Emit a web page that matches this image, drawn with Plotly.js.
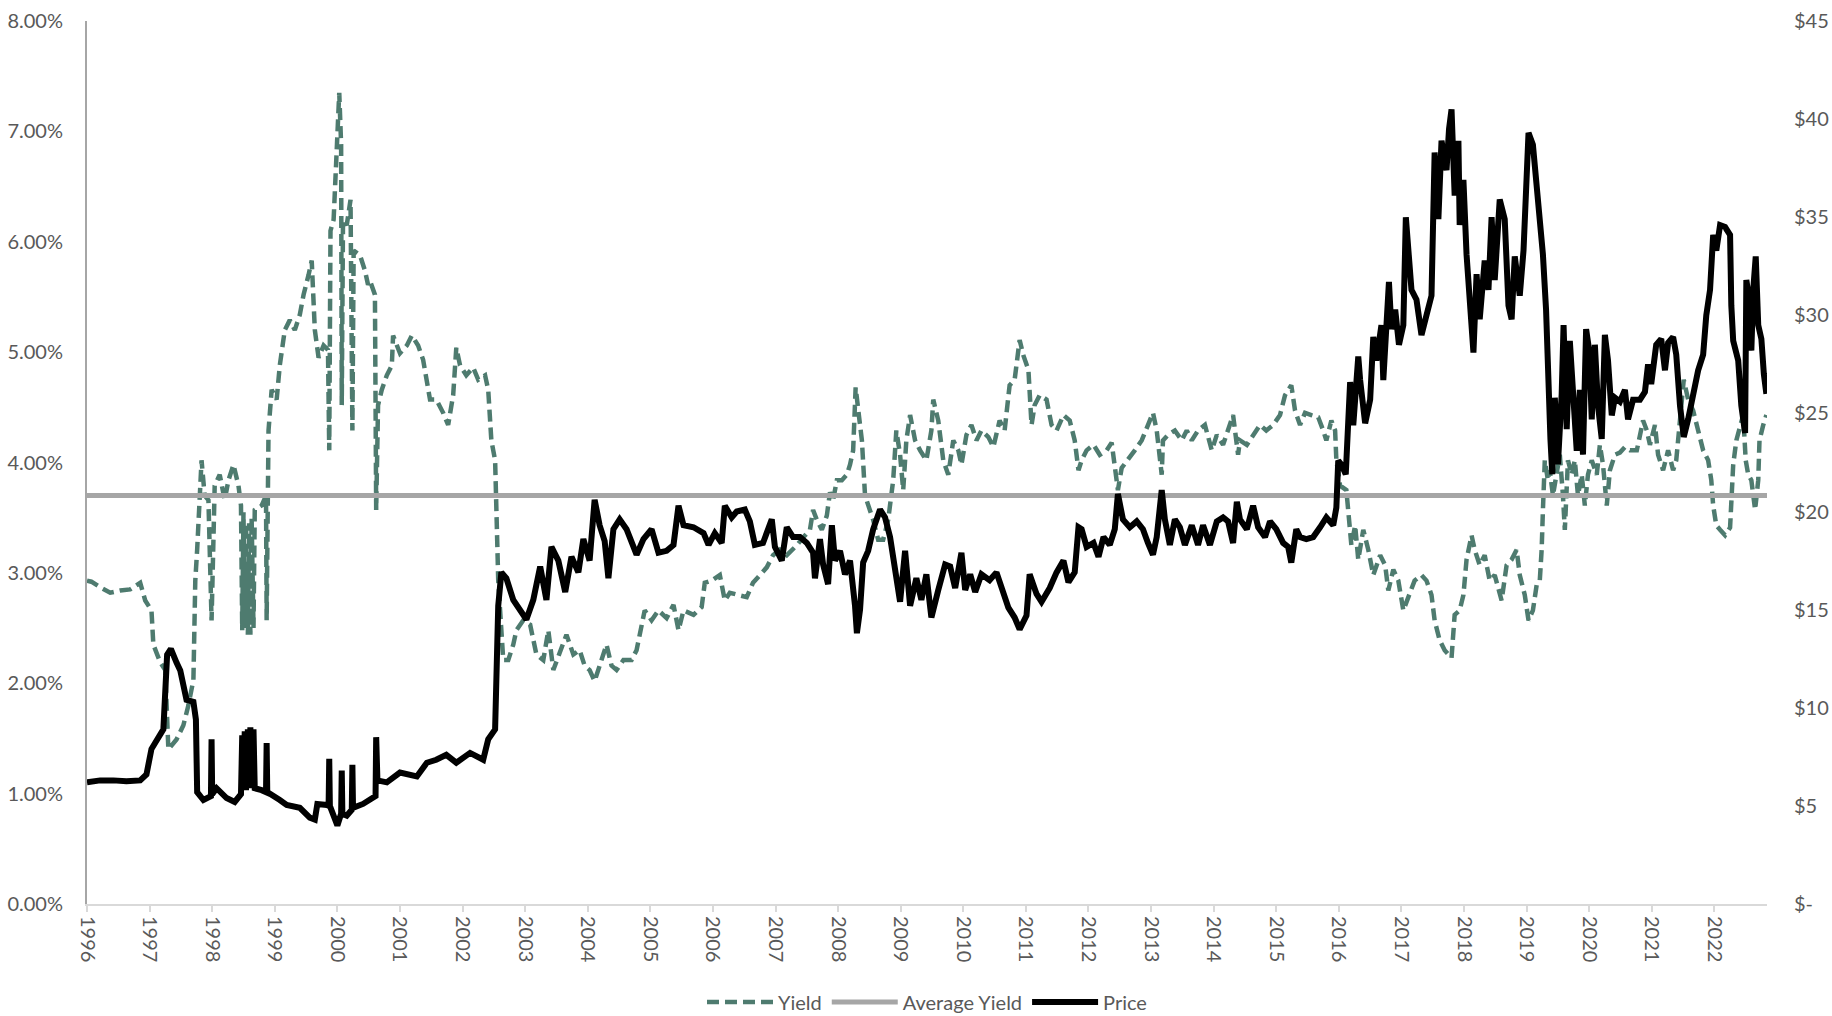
<!DOCTYPE html>
<html>
<head>
<meta charset="utf-8">
<script src="https://cdn.plot.ly/plotly-3.0.1.min.js"></script>
<style>
  html, body { margin: 0; padding: 0; background: #ffffff; }
  #chart { width: 1832px; height: 1016px; }
</style>
</head>
<body>
<div id="chart"></div>
<script>
// ---- Data (x values are decimal years) ----
const priceYears = [
  1996.00,1996.21,1996.42,1996.63,1996.85,1996.95,1997.03,1997.17,1997.22,1997.28,1997.34,1997.43,1997.49,1997.59,1997.70,1997.74,1997.76,1997.86,1997.98,1997.99,1998.00,1998.07,1998.23,1998.36,1998.46,1998.48,1998.50,1998.52,1998.54,1998.57,1998.59,1998.61,1998.63,1998.66,1998.68,1998.79,1998.86,1998.87,1998.88,1999.08,1999.19,1999.40,1999.56,1999.64,1999.68,1999.83,1999.86,1999.87,1999.88,2000.00,2000.06,2000.07,2000.08,2000.15,2000.23,2000.24,2000.25,2000.41,2000.52,
  2000.61,2000.62,2000.64,2000.79,2001.00,2001.27,2001.43,2001.58,2001.74,2001.90,2002.12,2002.33,2002.41,2002.52,2002.54,2002.57,2002.62,2002.70,2002.81,2002.92,2003.02,2003.13,2003.24,2003.34,2003.42,2003.53,2003.64,2003.74,2003.85,2003.93,2004.03,2004.11,2004.19,2004.27,2004.33,2004.41,2004.51,2004.62,2004.70,2004.78,2004.89,2005.02,2005.13,
  2005.26,2005.37,2005.45,2005.53,2005.69,2005.85,2005.93,2006.03,2006.14,2006.19,2006.30,2006.38,2006.51,2006.59,2006.67,2006.80,2006.94,2006.99,2007.10,2007.18,2007.28,2007.39,2007.50,2007.60,2007.63,2007.71,2007.76,2007.84,2007.90,2007.95,2008.03,2008.11,2008.19,2008.27,2008.30,2008.35,2008.40,2008.48,2008.56,2008.67,2008.75,2008.83,2008.91,2008.99,2009.07,2009.15,2009.25,2009.33,2009.41,2009.49,2009.60,2009.71,
  2009.79,2009.87,2009.97,2010.03,2010.11,2010.19,2010.29,2010.42,2010.53,2010.61,2010.72,2010.82,2010.90,2011.01,2011.06,2011.17,2011.25,2011.38,2011.49,2011.60,2011.68,2011.78,2011.84,2011.89,2011.97,2012.08,2012.16,2012.24,2012.34,2012.42,2012.47,2012.55,2012.66,2012.77,2012.87,2012.95,2013.03,2013.09,2013.17,2013.22,2013.30,2013.38,2013.46,2013.54,2013.65,2013.75,2013.83,2013.94,2014.05,2014.15,2014.23,2014.31,2014.37,2014.42,
  2014.53,2014.63,2014.71,2014.82,2014.90,2015.00,2015.11,2015.19,2015.24,2015.32,2015.38,2015.48,2015.59,2015.70,2015.80,2015.91,2015.96,2015.99,2016.04,2016.11,2016.18,2016.23,2016.31,2016.34,2016.42,2016.50,2016.55,2016.60,2016.68,2016.71,2016.76,2016.80,2016.84,2016.90,2016.96,2017.03,2017.07,2017.11,2017.16,2017.24,2017.32,2017.40,2017.48,2017.53,2017.59,2017.64,2017.72,2017.76,2017.80,2017.85,2017.91,2017.93,2017.99,2018.04,2018.09,2018.15,2018.20,2018.25,2018.33,2018.39,2018.44,2018.49,2018.57,2018.65,2018.71,2018.76,2018.81,2018.89,2018.95,2018.99,2019.03,
  2019.10,2019.16,2019.21,2019.26,2019.31,2019.34,2019.38,2019.41,2019.45,2019.50,2019.56,2019.59,2019.64,2019.69,2019.74,2019.80,2019.85,2019.90,2019.95,2020.00,2020.04,2020.09,2020.14,2020.20,2020.25,2020.30,2020.36,2020.41,2020.49,2020.57,2020.62,2020.70,2020.81,2020.89,2020.94,2020.99,2021.07,2021.15,2021.21,2021.26,2021.34,2021.39,2021.45,2021.51,2021.58,2021.66,2021.74,2021.82,2021.87,2021.93,2021.98,2022.03,2022.09,2022.17,2022.25,2022.27,2022.30,2022.38,2022.43,2022.49,2022.51,2022.57,2022.59,2022.62,2022.66,2022.70,2022.75,2022.79,2022.83
];
const priceValues = [
  6.2,6.3,6.3,6.25,6.3,6.6,7.9,8.6,8.9,12.7,13.0,12.3,11.9,10.4,10.3,9.4,5.7,5.3,5.5,8.4,5.6,5.9,5.4,5.2,5.6,8.6,5.8,8.8,5.8,8.9,5.9,9.0,6.0,8.9,5.9,5.8,5.7,8.2,5.7,5.3,5.05,4.9,4.4,4.3,5.1,5.05,5.0,7.4,5.0,4.0,4.6,6.8,4.6,4.5,4.8,7.1,4.9,5.1,5.3,
  5.5,8.5,6.3,6.2,6.7,6.5,7.2,7.35,7.6,7.2,7.7,7.35,8.4,8.9,13.7,15.2,16.9,16.6,15.5,14.9,14.5,15.5,17.2,15.5,18.2,17.5,15.9,17.7,16.9,18.6,17.5,20.6,19.3,18.5,16.6,19.1,19.6,19.1,18.4,17.8,18.6,19.1,17.9,
  18.0,18.3,20.3,19.3,19.2,18.9,18.3,18.9,18.4,20.3,19.7,20.0,20.1,19.5,18.3,18.4,19.6,18.2,17.5,19.2,18.7,18.7,18.4,17.9,16.6,18.6,17.3,16.3,19.3,17.5,18.0,16.8,17.5,15.2,13.8,15.0,17.4,18.0,19.1,20.1,19.7,18.7,17.0,15.4,18.0,15.2,16.6,15.5,16.8,14.6,16.0,17.3,
  17.2,16.1,17.9,16.0,16.8,15.9,16.8,16.5,16.9,16.1,15.1,14.6,14.0,14.7,16.8,15.8,15.4,16.1,16.9,17.5,16.4,16.9,19.2,19.1,18.2,18.4,17.7,18.7,18.3,19.1,20.9,19.6,19.2,19.5,19.1,18.4,17.8,18.7,21.1,19.6,18.3,19.6,19.2,18.3,19.3,18.3,19.3,18.3,19.5,19.7,19.5,18.4,20.5,19.6,
  19.1,20.3,19.2,18.7,19.5,19.1,18.4,18.2,17.4,19.1,18.7,18.6,18.7,19.2,19.7,19.3,20.2,22.6,22.4,21.9,26.6,24.4,27.9,26.7,24.5,25.7,28.9,27.7,29.5,26.7,28.9,31.7,29.3,30.3,28.5,29.5,35.0,33.3,31.3,30.8,29.0,30.0,31.0,38.3,34.9,38.9,37.4,39.5,40.5,36.1,38.9,34.6,36.9,33.1,30.3,28.1,32.1,29.8,32.8,31.3,35.0,31.8,35.9,34.9,30.5,29.8,33.0,31.0,33.3,35.9,39.3,
  38.7,36.6,34.6,33.1,30.3,26.7,23.7,21.9,25.8,22.4,26.0,29.5,24.2,28.7,26.2,23.1,26.2,22.9,29.3,28.2,24.7,28.5,25.4,23.7,29.0,27.7,24.9,25.8,25.6,26.2,24.7,25.7,25.7,26.1,27.5,26.5,28.5,28.8,27.2,28.6,28.9,28.0,25.4,23.8,24.7,26.0,27.2,28.0,30.0,31.3,34.1,33.3,34.6,34.5,34.1,30.5,28.7,27.7,25.4,24.0,31.8,30.5,28.2,31.3,33.0,29.5,28.8,27.0,26.0
];

const yieldYears = [
  1996.00,1996.07,1996.21,1996.37,1996.53,1996.69,1996.85,1996.93,1997.03,1997.06,1997.17,1997.25,1997.30,1997.43,1997.54,1997.62,1997.70,1997.73,1997.76,1997.83,1997.88,1997.94,1997.99,1998.04,1998.12,1998.20,1998.26,1998.34,1998.42,1998.46,1998.48,1998.50,1998.52,1998.54,1998.57,1998.59,1998.61,1998.63,1998.66,1998.68,1998.79,1998.86,1998.87,1998.90,1998.95,1999.03,1999.08,1999.16,1999.24,1999.32,1999.40,1999.46,1999.54,1999.59,1999.64,1999.70,1999.78,1999.85,1999.87,1999.89,1999.94,1999.99,2000.03,2000.06,2000.07,2000.09,2000.15,2000.21,2000.24,2000.26,2000.36,2000.44,2000.49,
  2000.52,2000.60,2000.62,2000.65,2000.71,2000.79,2000.87,2000.89,2001.00,2001.11,2001.19,2001.29,2001.37,2001.43,2001.48,2001.58,2001.69,2001.77,2001.85,2001.90,2001.96,2002.06,2002.17,2002.25,2002.36,2002.41,2002.46,2002.52,2002.54,2002.57,2002.60,2002.65,2002.73,2002.81,2002.86,2002.97,2003.08,2003.18,2003.29,2003.37,2003.45,2003.56,2003.66,2003.77,2003.87,2003.95,2004.03,2004.11,2004.19,2004.30,2004.38,2004.46,2004.57,2004.70,2004.78,2004.86,2004.91,2005.02,2005.13,
  2005.26,2005.37,2005.45,2005.53,2005.69,2005.82,2005.87,2005.98,2006.11,2006.19,2006.27,2006.38,2006.54,2006.64,2006.75,2006.86,2006.96,2007.07,2007.18,2007.28,2007.34,2007.44,2007.55,2007.60,2007.66,2007.74,2007.82,2007.87,2007.92,2007.98,2008.06,2008.14,2008.19,2008.24,2008.28,2008.35,2008.38,2008.43,2008.48,2008.56,2008.64,2008.72,2008.80,2008.88,2008.93,2008.99,2009.04,2009.09,2009.15,2009.23,2009.31,2009.41,2009.49,2009.52,2009.60,2009.68,2009.76,
  2009.84,2009.92,2009.97,2010.05,2010.13,2010.21,2010.29,2010.40,2010.48,2010.58,2010.66,2010.74,2010.82,2010.90,2010.96,2011.04,2011.09,2011.14,2011.22,2011.33,2011.41,2011.49,2011.60,2011.70,2011.78,2011.84,2011.89,2011.97,2012.08,2012.18,2012.29,2012.37,2012.42,2012.47,2012.53,2012.63,2012.74,2012.85,2012.95,2013.03,2013.09,2013.17,2013.19,2013.27,2013.38,2013.49,2013.57,2013.65,2013.75,2013.86,2013.97,2014.05,2014.15,2014.23,2014.31,2014.39,
  2014.42,2014.53,2014.63,2014.74,2014.84,2014.95,2015.06,2015.14,2015.24,2015.30,2015.38,2015.46,2015.56,2015.67,2015.75,2015.80,2015.88,2015.94,2015.96,2016.02,2016.12,2016.15,2016.20,2016.26,2016.31,2016.39,2016.47,2016.55,2016.66,2016.74,2016.79,2016.87,2016.95,2017.03,2017.13,2017.21,2017.32,2017.40,2017.48,2017.53,2017.61,2017.69,2017.80,2017.85,2017.93,2017.99,2018.04,2018.12,2018.17,2018.25,2018.33,2018.41,2018.49,2018.60,2018.68,2018.76,2018.84,2018.89,2018.97,2019.03,
  2019.10,2019.16,2019.21,2019.24,2019.26,2019.29,2019.34,2019.37,2019.42,2019.48,2019.53,2019.58,2019.61,2019.66,2019.72,2019.77,2019.82,2019.88,2019.93,2019.98,2020.04,2020.12,2020.17,2020.22,2020.28,2020.33,2020.41,2020.49,2020.57,2020.65,2020.76,2020.86,2020.92,2020.97,2021.05,2021.10,2021.18,2021.26,2021.34,2021.39,2021.45,2021.51,2021.58,2021.66,2021.74,2021.82,2021.90,2021.95,2021.98,2022.03,2022.09,2022.17,2022.25,2022.27,2022.30,2022.35,2022.41,2022.46,2022.50,2022.54,2022.59,2022.65,2022.70,2022.72,2022.78,2022.83
];
const yieldValues = [
  2.93,2.92,2.87,2.82,2.84,2.85,2.91,2.75,2.66,2.35,2.19,2.12,1.40,1.49,1.62,1.80,2.03,2.93,3.21,4.02,3.70,3.66,2.57,3.79,3.89,3.66,3.84,3.98,3.79,3.61,2.48,3.55,2.50,3.45,2.44,3.45,2.44,3.50,2.50,3.57,3.61,3.70,2.57,4.29,4.66,4.57,4.88,5.20,5.29,5.20,5.34,5.52,5.70,5.83,5.20,4.95,5.06,5.02,4.11,6.10,6.20,6.92,7.35,6.88,4.52,6.20,6.15,6.38,4.29,5.92,5.88,5.74,5.61,
  5.65,5.52,3.57,4.52,4.66,4.79,4.88,5.15,4.99,5.06,5.15,5.06,4.93,4.75,4.57,4.57,4.45,4.34,4.61,5.04,4.88,4.79,4.86,4.75,4.79,4.66,4.20,4.02,3.48,2.93,2.66,2.21,2.21,2.35,2.48,2.57,2.53,2.26,2.21,2.48,2.12,2.30,2.44,2.26,2.30,2.16,2.12,2.02,2.16,2.35,2.16,2.12,2.21,2.21,2.30,2.53,2.66,2.57,2.66,
  2.59,2.71,2.48,2.66,2.62,2.69,2.91,2.93,2.98,2.75,2.82,2.80,2.78,2.91,2.98,3.05,3.16,3.21,3.16,3.21,3.25,3.32,3.39,3.57,3.48,3.39,3.52,3.73,3.66,3.84,3.84,3.89,3.98,4.11,4.68,4.34,4.20,3.70,3.61,3.48,3.30,3.30,3.48,3.84,4.29,4.07,3.75,4.20,4.43,4.20,4.11,4.02,4.29,4.57,4.38,4.02,3.89,
  4.20,4.11,3.98,4.25,4.34,4.20,4.29,4.23,4.14,4.38,4.29,4.70,4.75,5.11,4.97,4.84,4.34,4.52,4.61,4.57,4.34,4.29,4.43,4.38,4.20,3.93,4.02,4.11,4.16,4.07,4.11,4.18,3.98,3.75,3.95,4.02,4.11,4.20,4.34,4.45,4.29,3.89,4.20,4.25,4.29,4.20,4.29,4.20,4.29,4.34,4.11,4.25,4.16,4.29,4.43,4.07,
  4.20,4.16,4.25,4.34,4.29,4.34,4.43,4.61,4.70,4.47,4.34,4.45,4.43,4.41,4.29,4.20,4.38,4.29,4.02,3.79,3.75,3.52,3.25,3.43,3.12,3.39,3.21,2.98,3.16,3.07,2.84,3.03,2.93,2.66,2.80,2.93,2.98,2.93,2.80,2.57,2.39,2.30,2.23,2.62,2.66,2.80,3.12,3.34,3.21,3.07,3.16,2.93,2.98,2.75,3.07,3.12,3.21,2.98,2.80,2.57,
  2.66,2.89,2.93,3.21,3.57,4.02,3.84,3.93,3.70,3.93,4.07,3.70,3.39,4.02,3.89,4.02,3.70,3.89,3.61,3.89,4.02,3.89,4.16,3.98,3.61,3.93,4.07,4.09,4.14,4.11,4.11,4.38,4.29,4.16,4.34,4.07,3.93,4.11,3.93,4.02,4.38,4.75,4.57,4.47,4.29,4.11,4.02,3.84,3.61,3.43,3.39,3.34,3.41,3.75,3.98,4.20,4.34,4.43,4.02,3.89,3.84,3.57,3.84,4.20,4.34,4.43
];

const avgYieldYears = [1996.00, 2022.84];
const avgYieldValue = 3.70;
const avgYieldValues = [avgYieldValue, avgYieldValue];

const yearTicks = [];
for (let y = 1996; y <= 2022; y++) yearTicks.push(y);
const yieldTickVals = [0, 1, 2, 3, 4, 5, 6, 7, 8];
const yieldTickText = ["0.00%", "1.00%", "2.00%", "3.00%", "4.00%", "5.00%", "6.00%", "7.00%", "8.00%"];
const priceTickVals = [0, 5, 10, 15, 20, 25, 30, 35, 40, 45];
const priceTickText = ["$-", "$5", "$10", "$15", "$20", "$25", "$30", "$35", "$40", "$45"];

const FONT = '"Lato", "Liberation Sans", sans-serif';
const TXT = '#595959';

const traces = [
  {
    name: 'Yield', x: yieldYears, y: yieldValues, type: 'scatter', mode: 'lines',
    line: { color: '#4E7B6F', width: 4.5, dash: '12px,6px' }, yaxis: 'y', hoverinfo: 'skip'
  },
  {
    name: 'Average Yield', x: avgYieldYears, y: avgYieldValues, type: 'scatter', mode: 'lines',
    line: { color: '#A6A6A6', width: 5 }, yaxis: 'y', hoverinfo: 'skip'
  },
  {
    name: 'Price', x: priceYears, y: priceValues, type: 'scatter', mode: 'lines',
    line: { color: '#000000', width: 6 }, yaxis: 'y2', hoverinfo: 'skip'
  }
];

const layout = {
  width: 1832, height: 1016,
  margin: { l: 87, r: 65, t: 21, b: 112, autoexpand: false },
  paper_bgcolor: '#ffffff', plot_bgcolor: '#ffffff',
  font: { family: FONT, size: 20, color: TXT },
  showlegend: true,
  legend: {
    orientation: 'h', x: 0.5, xanchor: 'center', y: -0.111, yanchor: 'middle',
    font: { family: FONT, size: 20, color: TXT }, itemwidth: 66, traceorder: 'normal',
    bgcolor: 'rgba(0,0,0,0)'
  },
  xaxis: {
    type: 'linear', range: [1996, 2022.84],
    tickvals: yearTicks, ticktext: yearTicks.map(String),
    tickangle: 90, ticks: 'outside', ticklen: 6, tickcolor: '#D9D9D9', tickwidth: 2,
    showline: true, linecolor: '#D9D9D9', linewidth: 2,
    showgrid: false, zeroline: false, automargin: false,
    tickfont: { family: FONT, size: 20, color: TXT }
  },
  yaxis: {
    range: [0, 8], tickvals: yieldTickVals, ticktext: yieldTickText,
    showline: true, linecolor: '#A6A6A6', linewidth: 2, automargin: false,
    showgrid: false, zeroline: false, ticks: '', ticklabelstandoff: 18,
    tickfont: { family: FONT, size: 20, color: TXT }
  },
  yaxis2: {
    range: [0, 45], overlaying: 'y', side: 'right', automargin: false,
    tickvals: priceTickVals, ticktext: priceTickText,
    showline: false, showgrid: false, zeroline: false, ticks: '', ticklabelstandoff: 26,
    tickfont: { family: FONT, size: 20, color: TXT }
  }
};

Plotly.newPlot('chart', traces, layout, { displayModeBar: false, staticPlot: true });
</script>
</body>
</html>
